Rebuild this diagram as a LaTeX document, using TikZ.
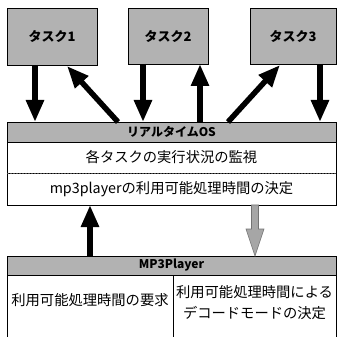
\documentclass[tikz,border=0pt]{standalone}
\usepackage{fontspec}
\setmainfont{Noto Sans CJK JP}
\usetikzlibrary{arrows.meta,calc}
\tikzset{
  halftone/.style={fill=black!30},
  taskbox/.style={draw=black, line width=0.6pt, halftone, inner sep=0pt, outer sep=0pt, font=\fontsize{13}{15}\selectfont\bfseries},
  headbox/.style={draw=black, line width=0.6pt, halftone, inner sep=0pt, outer sep=0pt, font=\fontsize{12}{14}\selectfont\bfseries},
  cellbox/.style={draw=black, line width=0.6pt, fill=white, inner sep=0pt, outer sep=0pt},
  txt/.style={inner sep=0pt, font=\fontsize{14.3}{21}\selectfont, align=center},
  blk/.style={line width=5.5pt, -{Triangle[width=17pt,length=22pt]}},
  grayarrow/.style={draw=black!55, fill=black!35, line width=0.6pt},
}
\begin{document}
\begin{tikzpicture}[x=1pt,y=-1pt]
\useasboundingbox[fill=white] (0,0) rectangle (338,337);
% tasks
\node[taskbox, minimum width=90pt, minimum height=57pt] (t1) at (52,36.5) {タスク1};
\node[taskbox, minimum width=80pt, minimum height=56pt] (t2) at (168,36) {タスク2};
\node[taskbox, minimum width=86pt, minimum height=56pt] (t3) at (293,36) {タスク3};
% RTOS block
\node[headbox, minimum width=329pt, minimum height=20pt] (os) at (171.5,132) {リアルタイムOS};
\node[cellbox, minimum width=329pt, minimum height=31pt] (r1) at (171.5,157.5) {};
\node[cellbox, minimum width=329pt, minimum height=32pt] (r2) at (171.5,189) {};
\draw[black!70, line width=0.6pt, dash pattern=on 2pt off 1pt] (r1.south west) -- (r1.south east);
\node[txt] (r1t) at (r1.center) {各タスクの実行状況の監視};
\node[txt] (r2t) at (r2.center) {mp3playerの利用可能処理時間の決定};
% MP3Player block
\node[headbox, minimum width=329pt, minimum height=19pt] (mp3) at (171.5,265.5) {MP3Player};
\node[cellbox, minimum width=166pt, minimum height=62pt] (c1) at (90,306) {};
\node[cellbox, minimum width=163pt, minimum height=62pt] (c2) at (254.5,306) {};
\node[txt] (c1t) at ($(c1.center)+(0,-6)$) {利用可能処理時間の要求};
\node[txt] (c2t) at ($(c2.center)+(0,-3)$) {利用可能処理時間による\\デコードモードの決定};
% arrows between tasks and OS
\draw[blk] ($(t1.south west)+(28,0)$) -- ($(os.north west)+(28,0)$);
\draw[blk] ($(os.north west)+(111,0)$) -- ($(t1.south east)+(-30,1)$);
\draw[blk] ($(t2.south west)+(15,0)$) -- ($(os.north west)+(136,0)$);
\draw[blk] ($(os.north west)+(193,0)$) -- ($(t2.south east)+(-8,0)$);
\draw[blk] ($(os.north west)+(221,0)$) -- ($(t3.south west)+(30,1)$);
\draw[blk] ($(t3.south west)+(70,0)$) -- ($(os.north west)+(313,0)$);
% arrows between OS and MP3Player
\draw[blk] ($(mp3.north west)+(83,0)$) -- ($(r2.south west)+(83,0)$);
\coordinate (g1) at ($(r2.south west)+(248,0)$);
\coordinate (g2) at ($(mp3.north west)+(248,0)$);
\draw[grayarrow] ($(g1)+(-3.5,0)$) -- ($(g2)+(-3.5,-27)$) -- ($(g2)+(-9,-27)$) -- (g2)
  -- ($(g2)+(9,-27)$) -- ($(g2)+(3.5,-27)$) -- ($(g1)+(3.5,0)$) -- cycle;
\end{tikzpicture}
\end{document}
